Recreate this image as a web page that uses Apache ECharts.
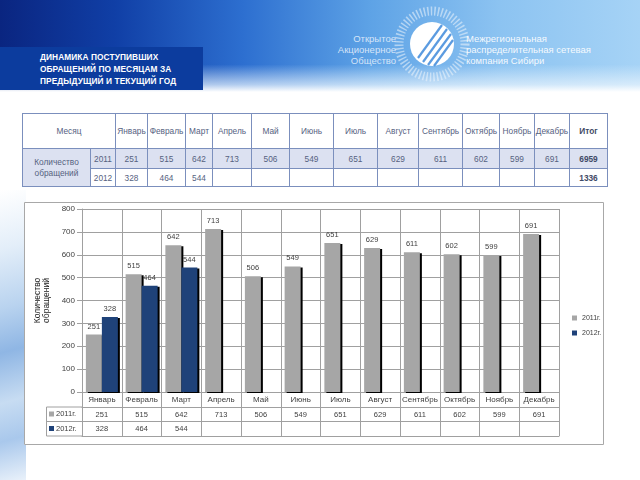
<!DOCTYPE html>
<html>
<head>
<meta charset="utf-8">
<script src="https://cdn.jsdelivr.net/npm/echarts/dist/echarts.min.js"></script>
<style>
  html, body { margin:0; padding:0; width:640px; height:480px; overflow:hidden; background:#ffffff; font-family:"Liberation Sans", Arial, sans-serif; }
  #header { position:absolute; left:0; top:0; width:640px; height:92px;
    background:
      linear-gradient(180deg, rgba(255,255,255,0) 0%, rgba(255,255,255,0) 70%, rgba(235,245,253,0.7) 92%, rgba(255,255,255,1) 100%),
      linear-gradient(90deg, #0a2580 0%, #103fa6 18%, #2d6fd0 38%, #5ea3e6 58%, #8cc3f1 78%, #a6d3f6 100%);
  }
  #titlebox { position:absolute; left:0; top:47px; width:203px; height:43px; background:#0c3c9e; }
  #titlebox div { position:absolute; left:40px; top:4px; color:#ffffff; font-weight:bold; font-size:8.3px; line-height:12px; letter-spacing:0.1px; }
  .hdrtxt { position:absolute; font-size:9.5px; line-height:11px; color:rgba(235,243,252,0.85); }
  #streak { position:absolute; left:0; top:190px; width:26px; height:290px;
    background: linear-gradient(165deg, #ffffff 0%, #e3eef9 20%, #b9d3ef 40%, #8fb6e4 55%, #c7dcf2 72%, #a9c8ec 85%, #e9f1fa 100%); }
  #tbl { position:absolute; left:22px; top:113px; border-collapse:collapse; table-layout:fixed; width:585px; }
  #tbl td { border:1px solid #7b8fbd; text-align:center; font-size:8.3px; color:#56627f; padding:0; overflow:hidden; white-space:nowrap; }
  #tbl tr.h td { height:34px; background:#ffffff; }
  #tbl tr.r1 td { height:19px; background:#dce1f1; }
  #tbl tr.r2 td { height:17px; background:#ffffff; }
  #tbl td.lbl { white-space:normal; line-height:11px; background:#dce1f1; }
  #tbl td.b { font-weight:bold; color:#3f4a66; }
  #chart { position:absolute; left:24px; top:202px; width:580px; height:243px; background:#ffffff; }
</style>
</head>
<body>
<div id="header">
  <svg width="640" height="92" style="position:absolute;left:0;top:0">
    <g transform="translate(432,44)">
      <circle r="33" fill="none" stroke="rgba(240,246,252,0.55)" stroke-width="9" stroke-dasharray="1.5 2"/>
      <circle r="22" fill="#ffffff"/>
      <g stroke="#5b9be0" stroke-width="2.2">
        <line x1="-14" y1="14" x2="10" y2="-19"/>
        <line x1="-9" y1="18" x2="15" y2="-15"/>
        <line x1="-4" y1="21" x2="19" y2="-10"/>
        <line x1="2" y1="22" x2="21" y2="-4"/>
      </g>
    </g>
  </svg>
  <div class="hdrtxt" style="left:300px;top:33px;width:96px;text-align:right;">Открытое<br>Акционерное<br>Общество</div>
  <div class="hdrtxt" style="left:466px;top:33px;color:rgba(255,255,255,0.92);">Межрегиональная<br>распределительная сетевая<br>компания Сибири</div>
  <div id="titlebox"><div>ДИНАМИКА ПОСТУПИВШИХ<br>ОБРАЩЕНИЙ ПО МЕСЯЦАМ ЗА<br>ПРЕДЫДУЩИЙ И ТЕКУЩИЙ ГОД</div></div>
</div>
<div id="streak"></div>
<table id="tbl"></table>
<div id="chart"></div>
<script>
// ---- data ----
const months = ['Январь','Февраль','Март','Апрель','Май','Июнь','Июль','Август','Сентябрь','Октябрь','Ноябрь','Декабрь'];
const values2011 = [251, 515, 642, 713, 506, 549, 651, 629, 611, 602, 599, 691];
const values2012 = [328, 464, 544, null, null, null, null, null, null, null, null, null];
const seriesNames = ['2011г.', '2012г.'];
const yearLabels = ['2011', '2012'];
const total2011 = 6959;
const total2012 = 1336;
const yTicks = [0, 100, 200, 300, 400, 500, 600, 700, 800];

// ---- top table ----
(function buildTable() {
  const widths = [68, 25, 32, 38, 27, 39, 38, 44, 44, 41, 44, 37, 35, 35, 38];
  let html = '<colgroup>' + widths.map(w => '<col style="width:' + w + 'px">').join('') + '</colgroup>';
  html += '<tr class="h"><td colspan="2">Месяц</td>' + months.map(m => '<td>' + m + '</td>').join('') + '<td class="b">Итог</td></tr>';
  html += '<tr class="r1"><td class="lbl" rowspan="2">Количество обращений</td><td>' + yearLabels[0] + '</td>' +
    values2011.map(v => '<td>' + (v == null ? '' : v) + '</td>').join('') + '<td class="b">' + total2011 + '</td></tr>';
  html += '<tr class="r2"><td>' + yearLabels[1] + '</td>' +
    values2012.map(v => '<td>' + (v == null ? '' : v) + '</td>').join('') + '<td class="b">' + total2012 + '</td></tr>';
  document.getElementById('tbl').innerHTML = html;
})();

// ---- chart ----
const FONT = '"Liberation Sans", Arial, sans-serif';
const lineC = '#a0a0a0';
const txtC = '#404040';
const grey = '#a6a6a6';
const blue = '#1f4279';
const chart = echarts.init(document.getElementById('chart'));
const shadow = { shadowColor:'#000000', shadowOffsetX:2, shadowOffsetY:1, shadowBlur:0 };
const extraAxis = (data, offset, showLabel) => ({
  type:'category', data:data, position:'bottom', offset:offset,
  axisLine:{ show:true, lineStyle:{ color:lineC } },
  axisTick:{ show:false },
  axisLabel:{ show:showLabel, interval:0, fontSize:7.5, color:txtC, margin:3.5 },
  splitLine:{ show:false }
});
chart.setOption({
  animation:false,
  textStyle:{ fontFamily:FONT },
  grid:{ left:58, top:7, width:477, height:183 },
  legend:{
    orient:'vertical', left:543, top:106, itemWidth:5, itemHeight:5, itemGap:5, icon:'rect',
    itemStyle:{ shadowColor:'rgba(0,0,0,0)', shadowOffsetX:0, shadowOffsetY:0, shadowBlur:0 },
    textStyle:{ fontSize:7, color:txtC, lineHeight:10, width:30, overflow:'none' }, data:seriesNames
  },
  xAxis:[
    {
      type:'category', data:months, position:'bottom',
      axisLine:{ show:true, lineStyle:{ color:lineC } },
      axisTick:{ show:true, length:44, lineStyle:{ color:lineC } },
      axisLabel:{ interval:0, fontSize:8, color:txtC, margin:4 },
      splitLine:{ show:true, lineStyle:{ color:lineC } }
    },
    extraAxis(values2011.map(v => v == null ? '' : String(v)), 15, true),
    extraAxis(values2012.map(v => v == null ? '' : String(v)), 29.5, true),
    extraAxis(months, 44, false)
  ],
  yAxis:{
    type:'value', min:yTicks[0], max:yTicks[yTicks.length-1], interval:yTicks[1]-yTicks[0],
    axisLine:{ show:true, lineStyle:{ color:lineC } },
    axisTick:{ show:true, length:5, lineStyle:{ color:lineC } },
    axisLabel:{ fontSize:8, color:txtC, margin:7 },
    splitLine:{ show:true, lineStyle:{ color:lineC } },
    name:'Количество\nобращений', nameLocation:'middle', nameGap:27,
    nameTextStyle:{ fontSize:8.5, lineHeight:9, color:'#222222' }
  },
  series:[
    {
      name:seriesNames[0], type:'bar', data:values2011, barWidth:16, barGap:'0%',
      itemStyle:Object.assign({ color:grey }, shadow),
      label:{ show:true, position:'top', distance:4, fontSize:7.5, color:txtC }
    },
    {
      name:seriesNames[1], type:'bar', data:values2012, barWidth:16, barGap:'0%',
      itemStyle:Object.assign({ color:blue }, shadow),
      label:{ show:true, position:'top', distance:4, fontSize:7.5, color:txtC }
    }
  ],
  graphic:[
    { type:'rect', shape:{ x:0.5, y:0.5, width:579, height:242 }, style:{ fill:'none', stroke:'#a8a8a8', lineWidth:1 }, silent:true },
    { type:'line', shape:{ x1:22.5, y1:205, x2:58, y2:205 }, style:{ stroke:lineC } },
    { type:'line', shape:{ x1:22.5, y1:219.5, x2:58, y2:219.5 }, style:{ stroke:lineC } },
    { type:'line', shape:{ x1:22.5, y1:234, x2:58, y2:234 }, style:{ stroke:lineC } },
    { type:'line', shape:{ x1:22.5, y1:205, x2:22.5, y2:234 }, style:{ stroke:lineC } },
    { type:'rect', shape:{ x:25, y:209.5, width:5, height:5 }, style:{ fill:grey } },
    { type:'text', x:32, y:212, style:{ text:seriesNames[0], fontSize:7.5, fill:txtC, verticalAlign:'middle', fontFamily:FONT } },
    { type:'rect', shape:{ x:25, y:224, width:5, height:5 }, style:{ fill:blue } },
    { type:'text', x:32, y:226.5, style:{ text:seriesNames[1], fontSize:7.5, fill:txtC, verticalAlign:'middle', fontFamily:FONT } }
  ]
});
</script>
</body>
</html>
